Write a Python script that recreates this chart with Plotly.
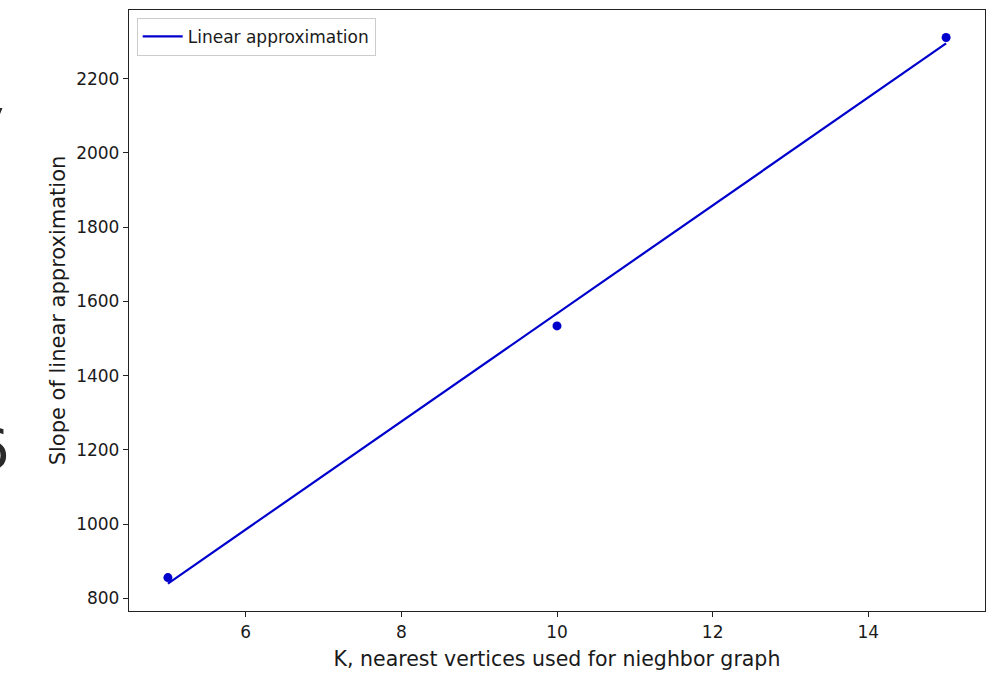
import plotly.graph_objects as go

# Data
k_values = [5, 10, 15]
slope_values = [856, 1534, 2311]
fit_values = [840, 1567, 2295]
x_ticks = [6, 8, 10, 12, 14]
y_ticks = [800, 1000, 1200, 1400, 1600, 1800, 2000, 2200]

color = "#0000CD"
font_family = "DejaVu Sans"
text_color = "#1a1a1a"

fig = go.Figure()
fig.add_trace(go.Scatter(
    x=k_values, y=fit_values, mode="lines",
    line=dict(color=color, width=2.2),
    name="Linear approximation", showlegend=True,
))
fig.add_trace(go.Scatter(
    x=k_values, y=slope_values, mode="markers",
    marker=dict(color=color, size=9),
    showlegend=False,
))

axis_common = dict(
    showline=True, mirror=True, linecolor="#222222", linewidth=1.3,
    ticks="outside", ticklen=5, tickwidth=1.2, tickcolor="#222222",
    showgrid=False, zeroline=False,
    tickfont=dict(family=font_family, size=17, color=text_color),
)

fig.update_layout(
    width=1003, height=677,
    margin=dict(l=129, r=18, t=10, b=66),
    paper_bgcolor="white", plot_bgcolor="white",
    font=dict(family=font_family, size=17, color=text_color),
    xaxis=dict(
        range=[4.5, 15.5], tickvals=x_ticks,
        title=dict(text="K, nearest vertices used for nieghbor graph",
                   font=dict(family=font_family, size=20.5, color=text_color), standoff=11),
        **axis_common,
    ),
    yaxis=dict(
        range=[766, 2385], tickvals=y_ticks,
        title=dict(text="Slope of linear approximation",
                   font=dict(family=font_family, size=21, color=text_color), standoff=4),
        **axis_common,
    ),
    legend=dict(
        x=0.009, y=0.987, xanchor="left", yanchor="top",
        bgcolor="rgba(255,255,255,0.8)", bordercolor="#cccccc", borderwidth=1,
        font=dict(family=font_family, size=17, color=text_color),
        itemwidth=40,
    ),
    annotations=[
        dict(text="6", xref="paper", yref="paper", x=(12 - 129) / 856, y=1 - (448 - 10) / 601,
             xanchor="right", yanchor="middle", showarrow=False,
             font=dict(family=font_family, size=56, color="#2a2a2a")),
        dict(text="y", xref="paper", yref="paper", x=(6 - 129) / 856, y=1 - (118 - 10) / 601,
             xanchor="right", yanchor="middle", showarrow=False,
             font=dict(family=font_family, size=56, color="#2a2a2a")),
    ],
)

fig.write_html("out.html")
